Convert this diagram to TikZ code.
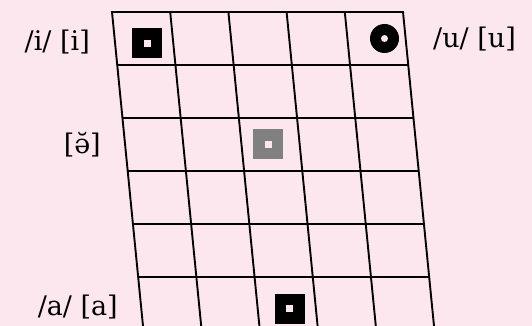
\documentclass[tikz,border=0pt]{standalone}
\usepackage{fontspec}
\setmainfont{DejaVu Serif}
\usetikzlibrary{calc}
\definecolor{bgpink}{RGB}{253,231,239}
\definecolor{markgray}{RGB}{128,128,128}

\begin{document}
\begin{tikzpicture}[x=1pt,y=-1pt,
  gridline/.style={line width=1.9pt},
  lbl/.style={font=\fontsize{27}{32}\selectfont, inner sep=0pt},
  sqmark/.style={minimum size=30pt, inner sep=0pt, fill=#1}]
\fill[bgpink] (0,0) rectangle (532,326);
\useasboundingbox (0,0) rectangle (532,326);
\clip (0,0) rectangle (532,326);
\coordinate (TL) at (112,12); \coordinate (TR) at (403,12); \coordinate (BL) at (143.4,330); \coordinate (BR) at (434.4,330);
\foreach \r in {1,...,5} \draw[gridline] ($(TL)!\r/6!(BL)$) -- ($(TR)!\r/6!(BR)$);
\foreach \c in {1,...,4} \draw[gridline] ($(TL)!\c/5!(TR)$) -- ($(BL)!\c/5!(BR)$);
\draw[gridline] (TL)--(TR)--(BR)--(BL)--cycle;
% vowel marks
\node[sqmark=black] (i) at (147,43.5) {};
\fill[bgpink] ($(i)+(-3.5,-3.5)$) rectangle ++(7,7);
\node[circle, fill=black, minimum size=29pt, inner sep=0pt] (u) at (384.5,38.5) {};
\fill[bgpink] (u) circle (3.5);
\node[sqmark=markgray] (schwa) at (268,144) {};
\fill[bgpink] ($(schwa)+(-3.5,-3.5)$) rectangle ++(7,7);
\node[sqmark=black] (a) at (289.5,308.5) {};
\fill[bgpink] ($(a)+(-3.5,-3.5)$) rectangle ++(7,7);
% labels
\node[lbl, anchor=base east] (ilbl) at (90,51) {/i/ [i]};
\node[lbl, anchor=base west] (ulbl) at (433,48) {/u/ [u]};
\node[lbl, anchor=base east] (schwalbl) at (101,153) {[ə̆]};
\node[lbl, anchor=base east] (albl) at (118,315) {/a/ [a]};
\end{tikzpicture}
\end{document}
